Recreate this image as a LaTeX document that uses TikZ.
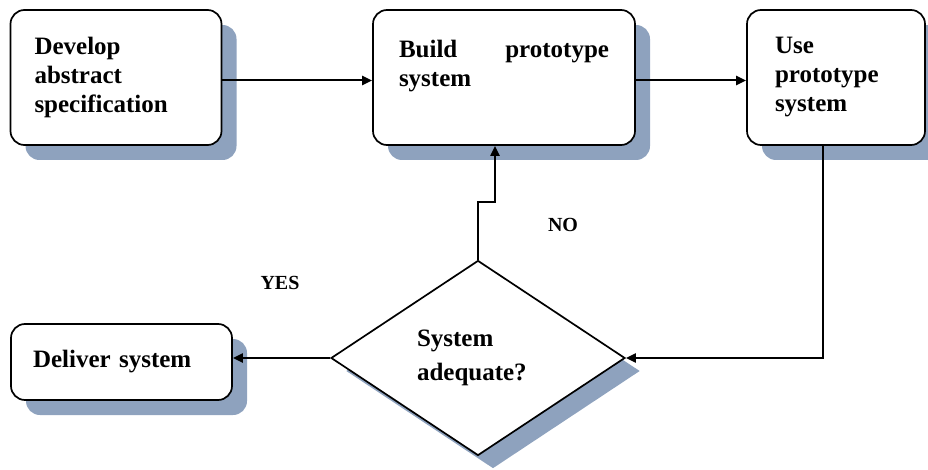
\documentclass[tikz,border=0pt]{standalone}
\usepackage{fontspec}
\setmainfont{Liberation Serif}
\usetikzlibrary{arrows.meta,positioning,shapes.geometric,shadows}
\definecolor{shade}{HTML}{8EA2BE}
\tikzset{
  stage/.style={rectangle,draw,fill=white,rounded corners=14pt,line width=1.7pt,inner sep=0pt,align=left,
    font=\fontsize{25}{29}\selectfont\bfseries,
    drop shadow={shadow xshift=15pt,shadow yshift=-15pt,fill=shade,opacity=1}},
  test/.style={diamond,draw,fill=white,line width=1.7pt,inner sep=0pt,aspect=1.5,align=left,
    minimum width=294pt,minimum height=195pt,font=\fontsize{25}{34}\selectfont\bfseries,
    drop shadow={shadow xshift=15pt,shadow yshift=-13pt,fill=shade,opacity=1}},
  answer/.style={font=\fontsize{20}{24}\selectfont\bfseries},
  flow/.style={line width=2pt,-{Triangle[length=10pt,width=9pt]}},
}
\begin{document}
\begin{tikzpicture}[x=1pt,y=-1pt]
  \useasboundingbox (0,0) rectangle (928,470);
  \node[stage,minimum width=211pt,minimum height=135pt,text width=163pt] (spec) at (116,77.5)
    {Develop\\abstract\\specification};
  \node[stage,minimum width=262pt,minimum height=135pt,text width=210pt] (build) at (504,77.5)
    {Build\hfill prototype\\system\\\mbox{}};
  \node[stage,minimum width=178pt,minimum height=135pt,text width=122pt] (use) at (836,77.5)
    {Use\\prototype\\system};
  \node[test,text width=122pt] (check) at (478,358) {System\\adequate?};
  \node[stage,minimum width=221pt,minimum height=76pt,text width=177pt] (deliver) at (121.5,362)
    {Deliver system};
  \node[answer] (no) at (563,225) {NO};
  \node[answer] (yes) at (280,283) {YES};
  % forward path
  \draw[flow] ([yshift=-3pt]spec.east) -- ([yshift=-3pt]build.west);
  \draw[flow] ([yshift=-3pt]build.east) -- ([yshift=-3pt]use.west);
  \draw[flow] ([xshift=-13pt]use.south) |- (check);
  % NO loops back to the prototype, YES goes out
  \draw[flow] (check.north) -- ++(0,-58) -| ([xshift=-9pt]build.south);
  \draw[flow] (check.west) -- (check.west -| deliver.east);
\end{tikzpicture}
\end{document}
